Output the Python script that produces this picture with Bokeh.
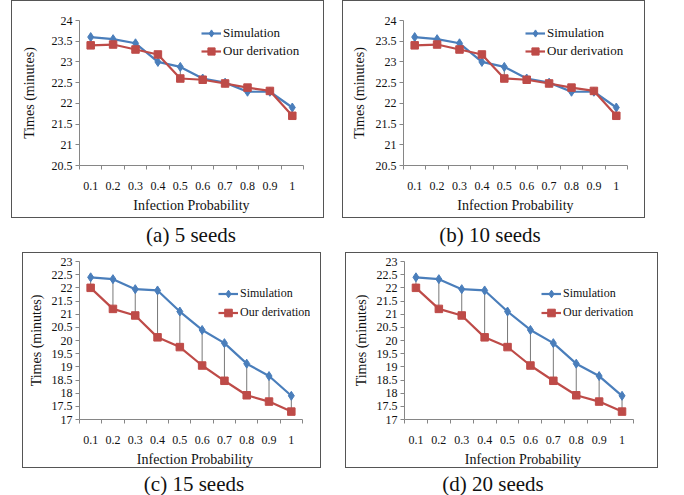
from bokeh.plotting import figure
from bokeh.models import Range1d, FixedTicker, Div, Spacer
from bokeh.layouts import row, column
from bokeh.embed import file_html
from bokeh.resources import INLINE

probs = ["0.1", "0.2", "0.3", "0.4", "0.5", "0.6", "0.7", "0.8", "0.9", "1"]

sim_a = [23.6, 23.55, 23.45, 23.0, 22.88, 22.6, 22.5, 22.28, 22.28, 21.9]
der_a = [23.4, 23.42, 23.3, 23.18, 22.6, 22.57, 22.48, 22.38, 22.3, 21.7]
sim_b = [23.6, 23.55, 23.45, 23.0, 22.88, 22.6, 22.5, 22.28, 22.28, 21.9]
der_b = [23.4, 23.42, 23.3, 23.18, 22.6, 22.57, 22.48, 22.38, 22.3, 21.7]
sim_c = [22.4, 22.33, 21.95, 21.9, 21.1, 20.4, 19.9, 19.12, 18.65, 17.9]
der_c = [22.0, 21.2, 20.95, 20.12, 19.75, 19.05, 18.47, 17.92, 17.68, 17.3]
sim_d = [22.4, 22.33, 21.95, 21.9, 21.1, 20.4, 19.9, 19.12, 18.65, 17.9]
der_d = [22.0, 21.2, 20.95, 20.12, 19.75, 19.05, 18.47, 17.92, 17.68, 17.3]

yticks_top = [20.5, 21, 21.5, 22, 22.5, 23, 23.5, 24]
yticks_bot = [17, 17.5, 18, 18.5, 19, 19.5, 20, 20.5, 21, 21.5, 22, 22.5, 23]

captions = ["(a) 5 seeds", "(b) 10 seeds", "(c) 15 seeds", "(d) 20 seeds"]
series_names = ["Simulation", "Our derivation"]

FONT = "'Liberation Serif', 'Times New Roman', serif"
BLUE = "#4A7EBB"
RED = "#BE4B48"
AXIS = "#868686"


def panel(sim, der, yticks, w, h, bl, br, bt, bb, leg_xy, ystand, leg_lh, leg_fs, xpad):
    n = len(probs)
    xs = [i + 0.5 for i in range(n)]
    p = figure(width=w, height=h, output_backend="svg", toolbar_location=None,
               x_range=Range1d(0, n + xpad), y_range=Range1d(yticks[0], yticks[-1]),
               min_border_left=bl, min_border_right=br,
               min_border_top=bt, min_border_bottom=bb,
               styles={"border": "1px solid #555555"})
    p.xgrid.visible = False
    p.ygrid.visible = False
    p.outline_line_color = None

    p.segment(x0=xs, y0=sim, x1=xs, y1=der, line_color="#555555", line_width=0.8)
    p.line(xs, sim, line_color=BLUE, line_width=2.2, legend_label=series_names[0])
    p.scatter(xs, sim, marker="diamond", size=9, fill_color=BLUE,
              line_color=BLUE, legend_label=series_names[0])
    p.line(xs, der, line_color=RED, line_width=2.2, legend_label=series_names[1])
    p.scatter(xs, der, marker="square", size=7.5, fill_color=RED,
              line_color=RED, legend_label=series_names[1])

    xa = p.xaxis[0]
    xa.bounds = (0, n)
    xa.ticker = FixedTicker(ticks=xs, minor_ticks=list(range(n + 1)))
    xa.major_label_overrides = {x: lab for x, lab in zip(xs, probs)}
    xa.major_tick_line_color = None
    xa.major_tick_out = 0
    xa.major_tick_in = 0
    xa.minor_tick_out = 4
    xa.minor_tick_in = 0
    xa.minor_tick_line_color = AXIS
    xa.major_label_standoff = 12
    xa.axis_label = "Infection Probability"
    xa.axis_label_standoff = 5

    ya = p.yaxis[0]
    ya.ticker = FixedTicker(ticks=yticks)
    ya.major_label_overrides = {t: f"{t:g}" for t in yticks}
    ya.minor_tick_line_color = None
    ya.major_tick_out = 4
    ya.major_tick_in = 0
    ya.major_tick_line_color = AXIS
    ya.major_label_standoff = 3
    ya.axis_label = "Times (minutes)"
    ya.axis_label_standoff = ystand

    for ax in (xa, ya):
        ax.axis_line_color = AXIS
        ax.axis_line_width = 1
        ax.major_label_text_font = FONT
        ax.major_label_text_font_size = "12px"
        ax.major_label_text_color = "#111111"
        ax.axis_label_text_font = FONT
        ax.axis_label_text_font_style = "normal"
        ax.axis_label_text_font_size = "14px"
        ax.axis_label_text_color = "#111111"

    lg = p.legend[0]
    lg.location = leg_xy
    lg.border_line_color = None
    lg.background_fill_alpha = 0
    lg.padding = 0
    lg.margin = 0
    lg.spacing = 0
    lg.glyph_width = 20
    lg.glyph_height = leg_lh
    lg.label_height = leg_lh
    lg.label_standoff = 2
    lg.label_text_font = FONT
    lg.label_text_font_size = leg_fs
    lg.label_text_color = "#111111"
    return p


pa = panel(sim_a, der_a, yticks_top, 313, 218, 67, 22, 19, 54, (122, 105), 12, 18, "13px", 0)
pb = panel(sim_b, der_b, yticks_top, 303, 218, 60, 19, 19, 54, (122, 105), 6, 18, "13px", 0)
pc = panel(sim_c, der_c, yticks_bot, 299, 216, 56, 12, 8, 45, (139, 97), 5, 19, "12px", 0.36)
pd = panel(sim_d, der_d, yticks_bot, 313, 216, 58, 18, 8, 45, (137, 97), 5, 19, "12px", 0.35)


def cap(text, h):
    return Div(text=text, width=200, height=h,
               styles={"text-align": "center", "font-family": "'Liberation Serif', serif",
                       "font-size": "21px", "line-height": f"{h}px", "color": "#111111"})


layout = column(
    row(Spacer(width=11), pa, Spacer(width=18), pb),
    row(Spacer(width=86), cap(captions[0], 24), Spacer(width=89), cap(captions[1], 24)),
    row(Spacer(width=22), pc, Spacer(width=24), pd),
    row(Spacer(width=89), cap(captions[2], 22), Spacer(width=89), cap(captions[3], 22)),
)

open("out.html", "w").write(file_html(layout, INLINE))
